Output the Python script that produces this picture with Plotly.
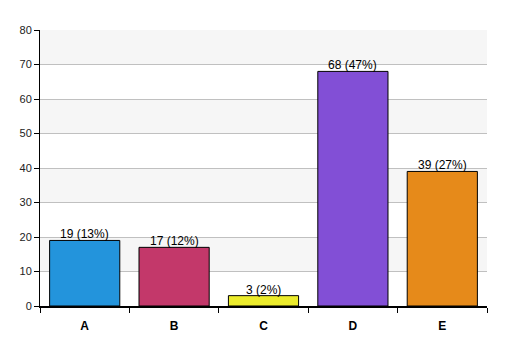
import plotly.graph_objects as go

categories = ["A", "B", "C", "D", "E"]
counts = [19, 17, 3, 68, 39]
percents = [13, 12, 2, 47, 27]
colors = ["#2394dc", "#c3386a", "#ecec2c", "#824fd6", "#e68a1a"]
y_ticks = [0, 10, 20, 30, 40, 50, 60, 70, 80]

labels = [f"{c} ({p}%)" for c, p in zip(counts, percents)]

fig = go.Figure()
fig.add_trace(go.Bar(
    x=categories, y=counts,
    marker=dict(color=colors, line=dict(color="#000", width=1)),
    width=0.785,
))

for cat, val, lab in zip(categories, counts, labels):
    fig.add_annotation(x=cat, y=val, text=lab, showarrow=False, yanchor="bottom",
                       yshift=-3, font=dict(family="Liberation Sans, Arial", size=12, color="#000"))

shapes = []
for i in range(len(y_ticks) - 1):
    if i % 2 == 1:
        shapes.append(dict(type="rect", xref="paper", yref="y", x0=0, x1=1,
                           y0=y_ticks[i], y1=y_ticks[i + 1],
                           fillcolor="#f6f6f6", line=dict(width=0), layer="below"))

fig.update_layout(
    width=507, height=356,
    margin=dict(l=40, r=20, t=30, b=50),
    paper_bgcolor="white", plot_bgcolor="white",
    showlegend=False, shapes=shapes,
    font=dict(family="Liberation Sans, Arial", size=11, color="#000"),
    xaxis=dict(tickson="boundaries", ticks="outside", ticklen=5, tickcolor="#000",
               showline=True, linecolor="#000", linewidth=2, showgrid=False,
               tickfont=dict(size=12, color="#000", family="Liberation Sans, Arial"),
               ticklabelstandoff=8),
    yaxis=dict(range=[0, 80], tickvals=y_ticks, ticks="outside", ticklen=5,
               tickcolor="#000", showline=True, linecolor="#000", linewidth=1,
               showgrid=True, gridcolor="#c0c0c0", gridwidth=1, zeroline=False,
               tickfont=dict(size=11, color="#222")),
)
fig.update_xaxes(tickprefix="<b>", ticksuffix="</b>")

fig.write_html("out.html", config={"displayModeBar": False},
               post_script="document.body.style.margin='0';")
